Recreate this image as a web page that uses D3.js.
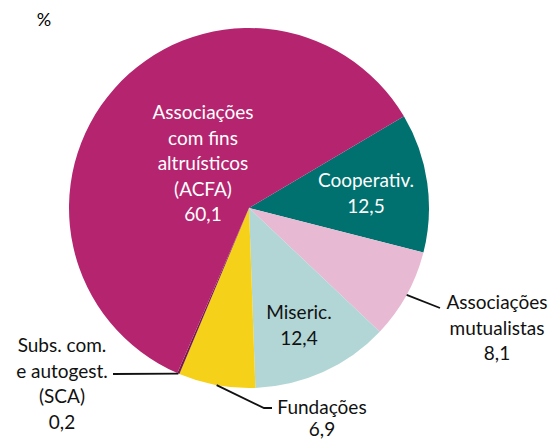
<!DOCTYPE html>
<html>
<head>
<meta charset="utf-8">
<script src="https://cdn.jsdelivr.net/npm/d3@7"></script>
<style>
  body { margin: 0; background: #fff; }
  text { font-family: Lato, "Noto Sans", sans-serif; }
</style>
</head>
<body>
<div id="chart"></div>
<script>
// values (%), clockwise from the top-right boundary
const categories = ["Cooperativ.", "Associações mutualistas", "Miseric.", "Fundações", "SCA", "ACFA"];
const values = [12.5, 8.1, 12.4, 6.9, 0.2, 60.1];
const labels = [
    ["Cooperativ.", "12,5"],
    ["Associações", "mutualistas", "8,1"],
    ["Miseric.", "12,4"],
    ["Fundações", "6,9"],
    ["Subs. com.", "e autogest.", "(SCA)", "0,2"],
    ["Associações", "com fins", "altruísticos", "(ACFA)", "60,1"]
];
const colors = ["#00716f", "#e8b9d3", "#b2d6d6", "#f5d11a", "#7a1a4a", "#b5246f"];

// label layout (centre x, first baseline y, white text?, leader line points)
const labelPos = [
    {x: 366, y: 187, white: true},
    {x: 497, y: 309, leader: [[440, 308]]},
    {x: 299, y: 319},
    {x: 322, y: 414, leader: [[264, 408], [272, 408]]},
    {x: 62, y: 352, leader: [[113, 374]]},
    {x: 203, y: 119, white: true}
];

const width = 550, height = 441;
const cx = 249, cy = 208, radius = 180;
const lineH = 25.5;

let svg = d3.select("#chart").append("svg")
    .attr("width", width)
    .attr("height", height);

svg.append("text")
    .attr("x", 44)
    .attr("y", 26)
    .attr("text-anchor", "middle")
    .style("font-size", "18px")
    .text("%");

let g = svg.append("g")
    .attr("transform", "translate(" + cx + "," + cy + ")");

let startA = 59.4 * Math.PI / 180;

let pie = d3.pie()
    .sort(null)
    .startAngle(startA)
    .endAngle(startA + 2 * Math.PI)
    .value(d => d);

let arc = d3.arc()
    .innerRadius(0)
    .outerRadius(radius);

let arcs = pie(values);

g.selectAll("path.slice")
    .data(arcs)
    .enter().append("path")
    .attr("class", "slice")
    .attr("d", arc)
    .attr("fill", (d, i) => colors[i]);

// leader lines from the slice edge at the mid angle
arcs.forEach(function (d, i) {
    let p = labelPos[i];
    if (!p.leader) return;
    let mid = (d.startAngle + d.endAngle) / 2;
    let start = [Math.sin(mid) * radius, -Math.cos(mid) * radius];
    let pts = [start].concat(p.leader.map(q => [q[0] - cx, q[1] - cy]));
    g.append("path")
        .attr("d", d3.line()(pts))
        .attr("fill", "none")
        .attr("stroke", "#111")
        .attr("stroke-width", 1.8);
});

// labels
labels.forEach(function (lines, i) {
    let p = labelPos[i];
    let t = svg.append("text")
        .style("font-size", "19px")
        .attr("fill", p.white ? "#fff" : "#111")
        .attr("text-anchor", "middle");
    lines.forEach(function (s, j) {
        t.append("tspan")
            .attr("x", p.x)
            .attr("y", Math.min(p.y + j * lineH, 436))
            .text(s);
    });
});
</script>
</body>
</html>
